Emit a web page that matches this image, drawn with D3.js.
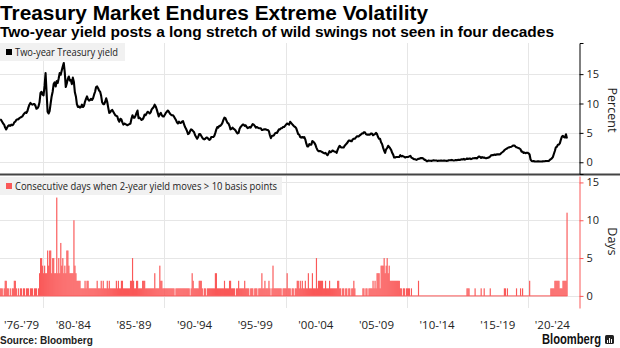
<!DOCTYPE html>
<html>
<head>
<meta charset="utf-8">
<script src="https://cdn.jsdelivr.net/npm/d3@7"></script>
<style>
  body { margin: 0; background: #fff; }
  svg { display: block; font-family: "Open Sans", sans-serif; }
</style>
</head>
<body>
<svg id="chart" width="620" height="348"></svg>
<script>
// monthly series, both start in June 1976
const firstYear = 1976, firstMonth = 6;

// two-year Treasury yield, percent (monthly)
const yieldPct = [
  7.3, 7.2, 6.9, 6.6, 6.4, 5.9, 5.6,                            // 1976 Jun-Dec
  5.9, 6.2, 6.3, 6.2, 6.4, 6.3, 6.4, 6.8, 6.9, 7.2, 7.3, 7.3,    // 1977
  7.5, 7.6, 7.7, 7.8, 8.1, 8.3, 8.5, 8.4, 8.7, 9.3, 9.8, 10.1,   // 1978
  9.9, 9.8, 9.9, 9.9, 9.6, 9.1, 9.2, 9.5, 10.2, 11.8, 12.0, 11.5,
  11.4, 13.0, 15.2, 11.9, 8.6, 8.3, 8.7, 10.0, 11.2, 12.0, 13.3, 13.6, // 1980
  12.9, 13.8, 13.5, 14.3, 15.2, 14.9, 15.6, 16.3, 16.9, 15.3, 12.8, 13.4,
  14.2, 14.6, 13.9, 14.0, 13.3, 14.4, 13.7, 11.9, 11.2, 9.9, 9.4, 9.5,
  9.3, 9.4, 9.8, 9.4, 9.6, 10.3, 10.8, 11.2, 10.7, 10.5, 10.6, 10.8,
  10.6, 10.9, 11.5, 12.0, 12.8, 12.9, 12.6, 12.2, 12.0, 11.3, 10.2, 9.9,
  9.9, 10.3, 10.9, 10.3, 9.3, 8.4, 8.5, 8.8, 8.9, 8.6, 8.3, 8.0,  // 1985
  7.9, 7.8, 7.2, 6.9, 7.4, 7.3, 6.8, 6.4, 6.6, 6.5, 6.4, 6.3,
  6.4, 6.5, 6.6, 7.4, 8.0, 7.6, 7.6, 7.9, 8.4, 8.8, 7.5, 7.6,
  7.4, 7.2, 7.3, 7.6, 8.1, 8.0, 8.3, 8.6, 8.5, 8.3, 8.5, 9.0,
  9.2, 9.4, 9.8, 9.5, 9.0, 8.4, 7.8, 8.2, 8.4, 8.0, 7.8, 7.8,
  8.1, 8.4, 8.6, 8.8, 8.6, 8.3, 8.1, 8.0, 8.0, 7.8, 7.5, 7.2,     // 1990
  6.8, 6.6, 6.9, 6.7, 6.7, 6.9, 7.0, 6.5, 6.0, 5.7, 5.3, 4.8,
  4.9, 5.3, 5.6, 5.5, 5.3, 5.1, 4.6, 4.3, 4.0, 4.3, 4.8, 4.8,
  4.5, 4.2, 4.0, 3.9, 4.0, 4.2, 4.2, 4.0, 3.8, 3.9, 4.3, 4.3,
  4.3, 4.5, 5.0, 5.6, 6.0, 5.9, 6.2, 6.2, 6.4, 6.7, 7.2, 7.6,
  7.5, 7.1, 6.7, 6.6, 6.2, 5.6, 5.7, 5.9, 5.7, 5.6, 5.4, 5.1,     // 1995
  4.9, 5.0, 5.7, 6.0, 6.2, 6.4, 6.4, 6.2, 6.3, 6.0, 5.8, 5.9,
  6.0, 5.9, 6.2, 6.5, 6.4, 6.2, 5.9, 6.0, 5.9, 5.8, 5.8, 5.8,
  5.5, 5.5, 5.6, 5.6, 5.6, 5.5, 5.5, 5.3, 4.6, 4.1, 4.5, 4.5,
  4.6, 4.9, 5.0, 5.0, 5.3, 5.6, 5.6, 5.8, 5.8, 6.0, 6.0, 6.2,
  6.4, 6.6, 6.5, 6.4, 6.9, 6.7, 6.5, 6.3, 6.1, 6.0, 5.8, 5.3,     // 2000
  4.8, 4.7, 4.3, 4.2, 4.3, 4.2, 4.3, 3.9, 3.2, 2.7, 2.7, 3.1,
  3.0, 3.0, 3.6, 3.5, 3.3, 3.0, 2.5, 2.1, 1.9, 1.9, 1.9, 1.8,
  1.7, 1.6, 1.5, 1.6, 1.4, 1.2, 1.5, 1.9, 1.7, 1.8, 2.0, 1.9,
  1.8, 1.8, 1.6, 2.1, 2.5, 2.8, 2.6, 2.5, 2.5, 2.5, 2.8, 3.0,
  3.2, 3.4, 3.7, 3.7, 3.6, 3.6, 3.9, 4.0, 4.0, 4.2, 4.4, 4.4,     // 2005
  4.4, 4.6, 4.7, 4.9, 4.9, 5.1, 5.1, 4.8, 4.7, 4.7, 4.7, 4.7,
  4.9, 4.9, 4.6, 4.7, 4.8, 5.0, 4.8, 4.3, 4.0, 4.0, 3.4, 3.1,
  2.5, 2.0, 1.6, 2.2, 2.4, 2.8, 2.6, 2.4, 2.1, 1.6, 1.3, 0.8,
  0.8, 0.9, 0.9, 0.9, 0.9, 1.2, 1.0, 1.1, 1.0, 0.9, 0.8, 0.9,
  0.9, 0.9, 1.0, 1.1, 0.8, 0.7, 0.6, 0.5, 0.5, 0.4, 0.5, 0.6,     // 2010
  0.6, 0.7, 0.7, 0.7, 0.6, 0.4, 0.4, 0.2, 0.2, 0.3, 0.25, 0.25,
  0.23, 0.28, 0.34, 0.29, 0.29, 0.29, 0.23, 0.27, 0.26, 0.28, 0.27, 0.26,
  0.27, 0.27, 0.26, 0.23, 0.25, 0.33, 0.34, 0.36, 0.40, 0.34, 0.30, 0.34,
  0.39, 0.33, 0.40, 0.42, 0.39, 0.45, 0.51, 0.47, 0.57, 0.45, 0.54, 0.64,
  0.55, 0.62, 0.64, 0.54, 0.61, 0.69, 0.67, 0.70, 0.71, 0.64, 0.88, 0.98, // 2015
  0.90, 0.73, 0.88, 0.77, 0.82, 0.73, 0.67, 0.74, 0.77, 0.84, 0.98, 1.20,
  1.21, 1.20, 1.31, 1.24, 1.30, 1.34, 1.37, 1.34, 1.38, 1.57, 1.70, 1.84,
  2.03, 2.18, 2.28, 2.38, 2.51, 2.53, 2.61, 2.64, 2.77, 2.86, 2.86, 2.68,
  2.54, 2.50, 2.41, 2.34, 2.21, 1.81, 1.84, 1.57, 1.65, 1.55, 1.61, 1.61,
  1.52, 1.33, 0.45, 0.22, 0.17, 0.19, 0.15, 0.14, 0.13, 0.15, 0.17, 0.14, // 2020
  0.13, 0.12, 0.15, 0.16, 0.16, 0.20, 0.22, 0.22, 0.24, 0.39, 0.52, 0.66,
  0.88, 1.40, 1.91, 2.54, 2.64, 2.97, 3.02, 3.25, 3.86, 4.38, 4.50, 4.29,
  4.21, 4.75, 4.05                                               // 2023 Jan-Mar
];

// longest run of consecutive days with a >10bp move, per month
const streakDays = [
  1,1,1,0,1,2,2,            // 1976 Jun-Dec
  1,1,0,1,0,1,1,2,2,1,0,1,  // 1977
  0,1,1,0,1,1,0,1,1,1,0,1,
  1,1,0,1,1,1,0,1,3,5,5,4,
  3,4,3,3,6,4,6,6,3,5,5,3,  // 1980
  3,13,3,5,3,7,4,5,3,4,3,6,
  6,4,3,3,3,3,10,4,3,2,2,2,
  2,1,1,1,1,2,1,2,2,1,1,1,
  1,1,1,1,1,2,1,1,1,2,1,2,
  1,1,1,2,1,2,1,1,1,1,1,1,  // 1985
  2,1,2,1,1,2,2,1,1,1,1,1,
  1,1,2,2,5,2,1,1,2,2,1,1,
  1,1,2,2,2,1,1,1,1,1,1,1,
  1,1,3,1,1,1,1,4,2,2,1,1,
  1,1,1,1,1,1,1,1,1,1,0,1,  // 1990
  1,1,1,1,1,1,1,1,1,1,1,1,
  1,0,1,3,2,1,1,1,1,1,2,2,
  2,1,0,1,1,0,1,1,1,1,1,1,
  1,1,3,3,1,1,1,1,1,1,1,2,
  1,1,1,1,2,2,1,1,1,1,0,1,  // 1995
  1,2,1,1,1,1,1,2,1,1,1,1,
  0,1,1,1,0,1,1,1,0,1,1,1,
  3,1,1,2,1,1,1,2,1,0,1,4,
  1,1,1,1,1,1,1,1,0,1,1,1,
  1,3,1,1,1,0,1,1,0,1,1,2,  // 2000
  2,1,2,1,2,1,1,2,1,1,3,1,
  1,1,3,1,1,1,5,1,2,2,2,2,
  2,1,1,2,1,1,1,2,1,1,1,1,
  1,1,1,2,2,1,1,0,1,1,0,1,
  1,0,1,1,0,1,1,2,1,0,0,0,  // 2005
  0,0,0,0,1,1,0,1,1,0,1,1,
  1,1,2,1,2,1,3,3,3,1,4,4,
  4,5,3,4,5,3,4,2,2,2,2,2,
  2,2,2,2,2,1,1,0,1,1,0,1,
  1,1,1,0,1,0,0,0,0,0,0,2,  // 2010
  0,0,0,0,0,0,0,0,0,0,0,0,
  0,0,0,0,0,0,0,0,0,0,0,0,
  0,0,0,0,0,0,0,0,0,0,0,0,
  0,0,0,0,0,0,0,0,0,0,0,1,
  1,1,0,0,0,0,0,1,0,0,0,0,  // 2015
  0,1,0,0,1,0,0,0,0,0,1,0,
  0,0,0,0,0,0,0,0,0,0,0,0,
  1,1,0,1,0,0,0,0,0,0,0,0,
  1,0,0,0,1,0,1,0,0,0,0,0,
  0,2,0,0,0,0,0,0,0,0,0,0,  // 2020
  0,0,0,0,0,0,0,0,0,0,1,1,
  1,1,2,2,2,2,2,1,1,1,2,2,
  2,2,11                    // 2023 Jan-Mar
];

const xLabels = ["'76-'79", "'80-'84", "'85-'89", "'90-'94", "'95-'99",
                 "'00-'04", "'05-'09", "'10-'14", "'15-'19", "'20-'24"];
const xLabelStarts = [1976, 1980, 1985, 1990, 1995, 2000, 2005, 2010, 2015, 2020];
const gridYears = [1980, 1990, 2000, 2010, 2020];
const yieldTicks = [0, 5, 10, 15];
const dayTicks = [0, 5, 10, 15];

const RED = "#fa5858";
const svg = d3.select("#chart");
const axisX = 579;

// fractional year at the middle of month i
const monthYear = i => firstYear + (firstMonth - 1 + i) / 12 + 1 / 24;

const x = d3.scaleLinear().domain([1976.45, 2024.2]).range([0, axisX]);
const yTop = d3.scaleLinear().domain([-2, 20.3]).range([174, 43]);
const yBot = d3.scaleLinear().domain([-1.6, 15.85]).range([308, 176]);

// titles
svg.append("text")
  .attr("x", 0).attr("y", 20)
  .attr("font-family", "Liberation Sans, Arial, sans-serif")
  .attr("font-weight", "bold").attr("font-size", 20)
  .attr("fill", "#000")
  .attr("textLength", 428).attr("lengthAdjust", "spacingAndGlyphs")
  .text("Treasury Market Endures Extreme Volatility");

svg.append("text")
  .attr("x", 0).attr("y", 37)
  .attr("font-family", "Liberation Sans, Arial, sans-serif")
  .attr("font-weight", "bold").attr("font-size", 15)
  .attr("fill", "#000")
  .attr("textLength", 554).attr("lengthAdjust", "spacingAndGlyphs")
  .text("Two-year yield posts a long stretch of wild swings not seen in four decades");

// grid
const grid = svg.append("g").attr("stroke", "#e6e6e6").attr("stroke-width", 1);
grid.selectAll("line.vt")
  .data(gridYears).enter().append("line")
  .attr("x1", d => Math.round(x(d)) + 0.5).attr("x2", d => Math.round(x(d)) + 0.5)
  .attr("y1", yTop.range()[1]).attr("y2", yTop.range()[0]);
grid.selectAll("line.vb")
  .data(gridYears).enter().append("line")
  .attr("x1", d => Math.round(x(d)) + 0.5).attr("x2", d => Math.round(x(d)) + 0.5)
  .attr("y1", yBot.range()[1]).attr("y2", yBot.range()[0]);
grid.selectAll("line.ht")
  .data(yieldTicks).enter().append("line")
  .attr("x1", 0).attr("x2", axisX)
  .attr("y1", d => Math.round(yTop(d)) + 0.5).attr("y2", d => Math.round(yTop(d)) + 0.5);
grid.selectAll("line.hb")
  .data(dayTicks).enter().append("line")
  .attr("x1", 0).attr("x2", axisX)
  .attr("y1", d => Math.round(yBot(d)) + 0.5).attr("y2", d => Math.round(yBot(d)) + 0.5);

// legends
function legend(y, w, color, label, textW) {
  const g = svg.append("g");
  g.append("rect").attr("x", 0).attr("y", y).attr("width", w).attr("height", 18)
    .attr("fill", "#f1f1f1");
  g.append("rect").attr("x", 6).attr("y", y + 6).attr("width", 6).attr("height", 6)
    .attr("fill", color);
  g.append("text").attr("x", 15).attr("y", y + 13)
    .attr("font-size", 11).attr("fill", "#222")
    .attr("textLength", textW).attr("lengthAdjust", "spacingAndGlyphs")
    .text(label);
}
legend(43, 125, "#000", "Two-year Treasury yield", 103);
legend(177, 282, RED, "Consecutive days when 2-year yield moves > 10 basis points", 262);

// bars
const monthW = x(1 / 12) - x(0);
svg.append("g")
  .selectAll("rect")
  .data(streakDays.map((v, i) => ({ v, i })).filter(d => d.v > 0))
  .enter().append("rect")
  .attr("x", d => x(monthYear(d.i) - 1 / 24))
  .attr("width", monthW + 0.15)
  .attr("y", d => yBot(d.v))
  .attr("height", d => yBot(0) - yBot(d.v))
  .attr("fill", RED);

svg.append("line")
  .attr("x1", x(monthYear(0) - 1 / 24)).attr("x2", x(monthYear(streakDays.length - 1) + 1 / 24))
  .attr("y1", yBot(0)).attr("y2", yBot(0))
  .attr("stroke", RED).attr("stroke-width", 1);

// yield line
const line = d3.line()
  .x((d, i) => x(monthYear(i)))
  .y(d => yTop(d));

svg.append("path")
  .datum(yieldPct)
  .attr("d", line)
  .attr("fill", "none")
  .attr("stroke", "#000")
  .attr("stroke-width", 2.1)
  .attr("stroke-linejoin", "round");

// separator
svg.append("line")
  .attr("x1", 0).attr("x2", 620)
  .attr("y1", 174.5).attr("y2", 174.5)
  .attr("stroke", "#444").attr("stroke-width", 2);

// right axes
const topAxis = svg.append("g")
  .attr("transform", `translate(${axisX + 0.5},0)`)
  .call(d3.axisRight(yTop).tickValues(yieldTicks).tickSize(4).tickSizeOuter(4).tickPadding(3));
topAxis.select(".domain").attr("stroke", "#000");
topAxis.selectAll(".tick line").attr("stroke", "#000");
topAxis.selectAll("text").attr("font-family", "Open Sans, sans-serif").attr("font-size", 11).attr("fill", "#222");

const botAxis = svg.append("g")
  .attr("transform", `translate(${axisX + 0.5},0)`)
  .call(d3.axisRight(yBot).tickValues(dayTicks).tickSize(4).tickSizeOuter(0).tickPadding(3));
botAxis.select(".domain").attr("stroke", RED);
botAxis.selectAll(".tick line").attr("stroke", RED);
botAxis.selectAll("text").attr("font-family", "Open Sans, sans-serif").attr("font-size", 11).attr("fill", "#222");

svg.append("text")
  .attr("transform", `translate(608,${yTop(8.9)}) rotate(90)`)
  .attr("text-anchor", "middle")
  .attr("font-size", 12.5).attr("fill", "#222")
  .text("Percent");

svg.append("text")
  .attr("transform", `translate(608,${yBot(7.2)}) rotate(90)`)
  .attr("text-anchor", "middle")
  .attr("font-size", 12.5).attr("fill", "#222")
  .text("Days");

// x labels, centred on their five-year span
const xEnd = 2024;
svg.append("g")
  .selectAll("text")
  .data(xLabels)
  .enter().append("text")
  .attr("x", (d, i) => {
    const lo = Math.max(xLabelStarts[i], x.domain()[0]);
    const hi = Math.min(xLabelStarts[i + 1] || xEnd, xEnd);
    return x((lo + hi) / 2);
  })
  .attr("y", 329)
  .attr("text-anchor", "middle")
  .attr("font-size", 11.5).attr("fill", "#222")
  .text(d => d);

// footer
svg.append("text")
  .attr("x", 0).attr("y", 344)
  .attr("font-family", "Liberation Sans, Arial, sans-serif")
  .attr("font-weight", "bold").attr("font-size", 10).attr("fill", "#222")
  .text("Source: Bloomberg");

svg.append("text")
  .attr("x", 601).attr("y", 343.5)
  .attr("text-anchor", "end")
  .attr("font-family", "Liberation Sans, Arial, sans-serif")
  .attr("font-weight", "bold").attr("font-size", 14).attr("fill", "#111")
  .attr("textLength", 59).attr("lengthAdjust", "spacingAndGlyphs")
  .text("Bloomberg");

const logo = svg.append("g").attr("transform", "translate(605,335)");
logo.append("rect").attr("width", 9).attr("height", 9).attr("rx", 1.5).attr("fill", "#222");
logo.selectAll("rect.b")
  .data([3, 5, 4]).enter().append("rect")
  .attr("x", (d, i) => 2 + i * 2).attr("y", d => 8 - d)
  .attr("width", 1).attr("height", d => d)
  .attr("fill", "#fff");
</script>
</body>
</html>
